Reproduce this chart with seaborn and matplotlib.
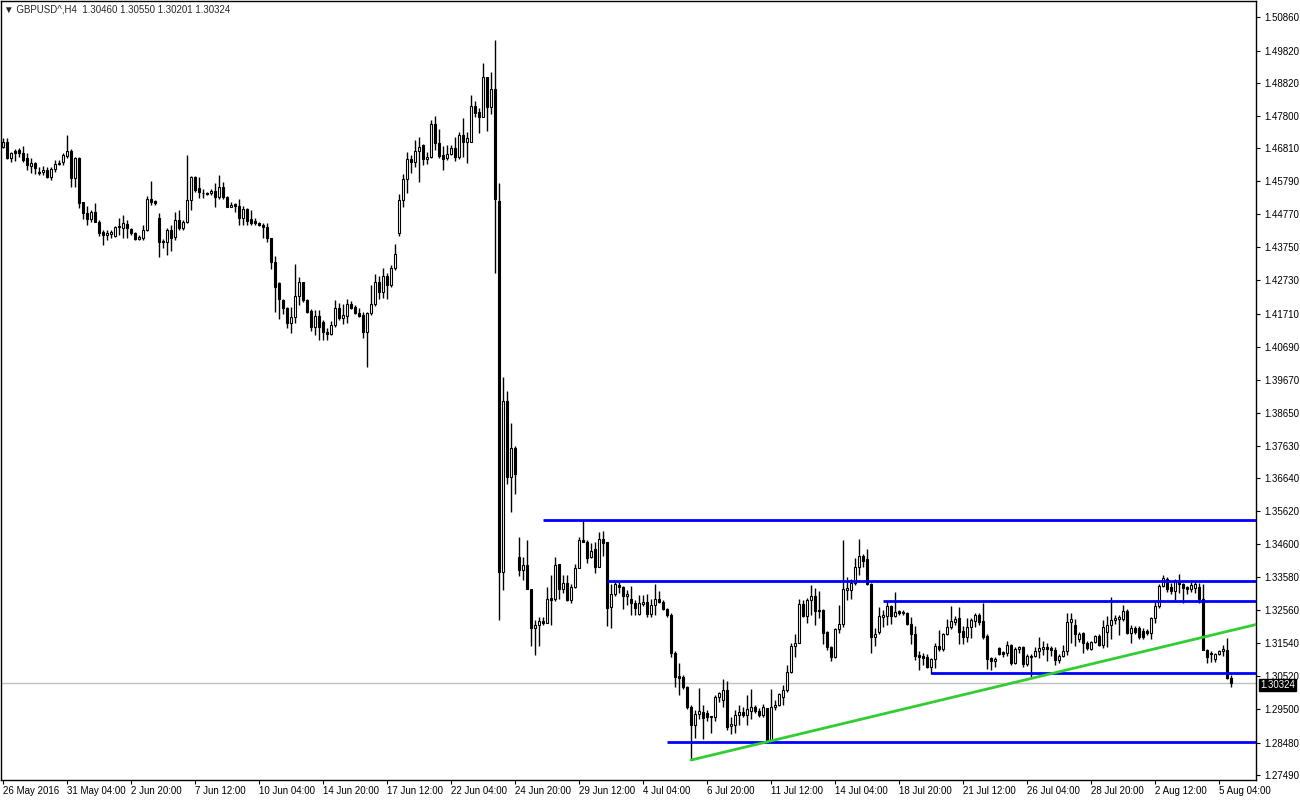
import pandas as pd
import seaborn as sns
import matplotlib.pyplot as plt
import numpy as np

# GBPUSD H4 candles, 26 May 2016 12:00 -> 5 Aug 2016 16:00
opens = [
    1.4685, 1.4700, 1.4651, 1.4672, 1.4675, 1.4666, 1.4651, 1.4626, 1.4635, 1.4608,
    1.4608, 1.4614, 1.4592, 1.4617, 1.4635, 1.4638, 1.4657, 1.4672, 1.4589, 1.4651,
    1.4515, 1.4481, 1.4463, 1.4484, 1.4454, 1.4423, 1.4414, 1.4417, 1.4410, 1.4438,
    1.4435, 1.4447, 1.4432, 1.4420, 1.4401, 1.4404, 1.4429, 1.4524, 1.4518, 1.4466,
    1.4392, 1.4392, 1.4429, 1.4407, 1.4460, 1.4435, 1.4454, 1.4521, 1.4592, 1.4558,
    1.4543, 1.4543, 1.4543, 1.4549, 1.4530, 1.4561, 1.4530, 1.4499, 1.4509, 1.4503,
    1.4466, 1.4493, 1.4463, 1.4457, 1.4450, 1.4444, 1.4438, 1.4404, 1.4330, 1.4265,
    1.4213, 1.4188, 1.4142, 1.4161, 1.4225, 1.4268, 1.4213, 1.4179, 1.4130, 1.4164,
    1.4145, 1.4114, 1.4108, 1.4136, 1.4188, 1.4157, 1.4164, 1.4201, 1.4191, 1.4173,
    1.4167, 1.4114, 1.4173, 1.4201, 1.4268, 1.4238, 1.4287, 1.4259, 1.4312, 1.4420,
    1.4520, 1.4586, 1.4648, 1.4638, 1.4672, 1.4691, 1.4648, 1.4654, 1.4756, 1.4697,
    1.4660, 1.4651, 1.4663, 1.4682, 1.4654, 1.4722, 1.4700, 1.4700, 1.4811, 1.4792,
    1.4777, 1.4900, 1.4808, 1.4863, 1.4518, 1.3374, 1.3901, 1.3667, 1.3756, 1.3420,
    1.3380, 1.3395, 1.3322, 1.3201, 1.3211, 1.3223, 1.3217, 1.3294, 1.3291, 1.3399,
    1.3322, 1.3340, 1.3288, 1.3328, 1.3386, 1.3473, 1.3467, 1.3420, 1.3445, 1.3389,
    1.3476, 1.3467, 1.3266, 1.3306, 1.3334, 1.3328, 1.3300, 1.3291, 1.3279, 1.3245,
    1.3276, 1.3282, 1.3245, 1.3273, 1.3291, 1.3282, 1.3260, 1.3242, 1.3124, 1.3053,
    1.3050, 1.3019, 1.2958, 1.2902, 1.2936, 1.2942, 1.2939, 1.2927, 1.2927, 1.2988,
    1.2979, 1.3010, 1.2899, 1.2902, 1.2933, 1.2942, 1.2933, 1.2945, 1.2958, 1.2945,
    1.2933, 1.2954, 1.2852, 1.2958, 1.2964, 1.2988, 1.3010, 1.3065, 1.3145, 1.3155,
    1.3275, 1.3238, 1.3288, 1.3300, 1.3257, 1.3257, 1.3189, 1.3143, 1.3112, 1.3198,
    1.3214, 1.3319, 1.3319, 1.3340, 1.3389, 1.3423, 1.3414, 1.3337, 1.3174, 1.3189,
    1.3235, 1.3238, 1.3269, 1.3238, 1.3254, 1.3251, 1.3248, 1.3214, 1.3183, 1.3118,
    1.3115, 1.3112, 1.3081, 1.3106, 1.3146, 1.3136, 1.3183, 1.3204, 1.3220, 1.3232,
    1.3192, 1.3174, 1.3204, 1.3223, 1.3241, 1.3223, 1.3177, 1.3109, 1.3100, 1.3140,
    1.3127, 1.3124, 1.3149, 1.3093, 1.3136, 1.3143, 1.3090, 1.3115, 1.3115, 1.3130,
    1.3136, 1.3143, 1.3140, 1.3133, 1.3102, 1.3115, 1.3130, 1.3220, 1.3211, 1.3168,
    1.3186, 1.3155, 1.3136, 1.3158, 1.3177, 1.3149, 1.3190, 1.3211, 1.3226, 1.3229,
    1.3229, 1.3254, 1.3186, 1.3201, 1.3201, 1.3192, 1.3192, 1.3186, 1.3232, 1.3269,
    1.3331, 1.3353, 1.3328, 1.3316, 1.3346, 1.3337, 1.3328, 1.3322, 1.3325, 1.3328,
    1.3291, 1.3134, 1.3124, 1.3106, 1.3121, 1.3130, 1.3134, 1.30460,
]
highs = [
    1.4713, 1.4713, 1.4669, 1.4678, 1.4681, 1.4688, 1.4666, 1.4651, 1.4638, 1.4623,
    1.4626, 1.4623, 1.4623, 1.4645, 1.4644, 1.4666, 1.4722, 1.4678, 1.4654, 1.4654,
    1.4515, 1.4503, 1.4491, 1.4512, 1.4460, 1.4429, 1.4429, 1.4429, 1.4441, 1.4466,
    1.4475, 1.4460, 1.4435, 1.4423, 1.4414, 1.4444, 1.4533, 1.4580, 1.4521, 1.4481,
    1.4401, 1.4435, 1.4444, 1.4484, 1.4490, 1.4460, 1.4660, 1.4595, 1.4595, 1.4592,
    1.4555, 1.4546, 1.4555, 1.4573, 1.4598, 1.4577, 1.4533, 1.4515, 1.4512, 1.4524,
    1.4503, 1.4496, 1.4490, 1.4466, 1.4453, 1.4450, 1.4450, 1.4404, 1.4349, 1.4268,
    1.4216, 1.4191, 1.4191, 1.4324, 1.4284, 1.4268, 1.4216, 1.4185, 1.4182, 1.4182,
    1.4152, 1.4127, 1.4148, 1.4213, 1.4204, 1.4201, 1.4216, 1.4210, 1.4198, 1.4188,
    1.4176, 1.4176, 1.4259, 1.4293, 1.4287, 1.4312, 1.4296, 1.4321, 1.4386, 1.4540,
    1.4600, 1.4669, 1.4660, 1.4706, 1.4716, 1.4694, 1.4669, 1.4768, 1.4781, 1.4740,
    1.4688, 1.4691, 1.4691, 1.4716, 1.4731, 1.4774, 1.4731, 1.4845, 1.4827, 1.4805,
    1.4943, 1.4900, 1.4916, 1.5015, 1.4574, 1.3975, 1.3932, 1.3833, 1.3762, 1.3482,
    1.3420, 1.3472, 1.3322, 1.3226, 1.3235, 1.3235, 1.3328, 1.3365, 1.3420, 1.3399,
    1.3365, 1.3365, 1.3337, 1.3399, 1.3482, 1.3534, 1.3473, 1.3464, 1.3467, 1.3498,
    1.3501, 1.3467, 1.3337, 1.3343, 1.3343, 1.3331, 1.3318, 1.3331, 1.3288, 1.3303,
    1.3303, 1.3306, 1.3291, 1.3337, 1.3315, 1.3288, 1.3263, 1.3248, 1.3130, 1.3093,
    1.3056, 1.3022, 1.2964, 1.2948, 1.3016, 1.2964, 1.2948, 1.2930, 1.2994, 1.3003,
    1.3044, 1.3037, 1.2927, 1.2948, 1.2964, 1.2958, 1.2994, 1.3013, 1.2964, 1.2955,
    1.2967, 1.2954, 1.3013, 1.2979, 1.3000, 1.3025, 1.3087, 1.3155, 1.3183, 1.3291,
    1.3288, 1.3294, 1.3334, 1.3325, 1.3315, 1.3260, 1.3192, 1.3146, 1.3201, 1.3272,
    1.3473, 1.3359, 1.3353, 1.3417, 1.3476, 1.3430, 1.3445, 1.3340, 1.3201, 1.3266,
    1.3257, 1.3285, 1.3272, 1.3312, 1.3257, 1.3257, 1.3251, 1.3235, 1.3207, 1.3130,
    1.3124, 1.3121, 1.3109, 1.3155, 1.3195, 1.3186, 1.3229, 1.3269, 1.3238, 1.3266,
    1.3207, 1.3232, 1.3232, 1.3248, 1.3248, 1.3279, 1.3183, 1.3112, 1.3112, 1.3143,
    1.3130, 1.3161, 1.3152, 1.3143, 1.3146, 1.3146, 1.3121, 1.3121, 1.3143, 1.3174,
    1.3161, 1.3155, 1.3146, 1.3143, 1.3121, 1.3149, 1.3248, 1.3248, 1.3229, 1.3189,
    1.3189, 1.3161, 1.3161, 1.3180, 1.3183, 1.3226, 1.3238, 1.3297, 1.3241, 1.3241,
    1.3272, 1.3260, 1.3211, 1.3207, 1.3207, 1.3201, 1.3198, 1.3235, 1.3282, 1.3337,
    1.3365, 1.3359, 1.3340, 1.3353, 1.3368, 1.3340, 1.3331, 1.3343, 1.3346, 1.3340,
    1.3337, 1.3137, 1.3130, 1.3124, 1.3133, 1.3149, 1.3170, 1.30550,
]
lows = [
    1.4682, 1.4648, 1.4638, 1.4641, 1.4654, 1.4638, 1.4614, 1.4604, 1.4601, 1.4598,
    1.4598, 1.4589, 1.4583, 1.4608, 1.4629, 1.4629, 1.4651, 1.4561, 1.4561, 1.4497,
    1.4463, 1.4445, 1.4454, 1.4454, 1.4410, 1.4383, 1.4398, 1.4405, 1.4408, 1.4414,
    1.4405, 1.4405, 1.4414, 1.4398, 1.4398, 1.4398, 1.4426, 1.4506, 1.4506, 1.4346,
    1.4374, 1.4352, 1.4364, 1.4398, 1.4429, 1.4430, 1.4450, 1.4490, 1.4546, 1.4527,
    1.4527, 1.4536, 1.4536, 1.4499, 1.4524, 1.4524, 1.4499, 1.4499, 1.4484, 1.4444,
    1.4444, 1.4444, 1.4444, 1.4444, 1.4441, 1.4404, 1.4392, 1.4308, 1.4176, 1.4154,
    1.4170, 1.4127, 1.4111, 1.4142, 1.4197, 1.4207, 1.4173, 1.4118, 1.4105, 1.4090,
    1.4090, 1.4090, 1.4105, 1.4130, 1.4152, 1.4139, 1.4142, 1.4185, 1.4170, 1.4161,
    1.4096, 1.4006, 1.4167, 1.4195, 1.4216, 1.4219, 1.4216, 1.4253, 1.4305, 1.4410,
    1.4500, 1.4543, 1.4604, 1.4623, 1.4577, 1.4629, 1.4632, 1.4651, 1.4675, 1.4651,
    1.4614, 1.4645, 1.4660, 1.4641, 1.4648, 1.4654, 1.4635, 1.4700, 1.4777, 1.4728,
    1.4777, 1.4734, 1.4786, 1.4296, 1.3226, 1.3318, 1.3645, 1.3559, 1.3614, 1.3362,
    1.3348, 1.3322, 1.3146, 1.3118, 1.3146, 1.3211, 1.3217, 1.3211, 1.3285, 1.3291,
    1.3310, 1.3285, 1.3279, 1.3325, 1.3386, 1.3467, 1.3401, 1.3417, 1.3371, 1.3389,
    1.3423, 1.3207, 1.3201, 1.3300, 1.3310, 1.3260, 1.3272, 1.3242, 1.3242, 1.3242,
    1.3270, 1.3235, 1.3235, 1.3242, 1.3279, 1.3257, 1.3235, 1.3112, 1.3019, 1.2994,
    1.3013, 1.2951, 1.2794, 1.2862, 1.2920, 1.2859, 1.2914, 1.2877, 1.2914, 1.2973,
    1.2958, 1.2887, 1.2874, 1.2877, 1.2902, 1.2927, 1.2902, 1.2920, 1.2939, 1.2927,
    1.2927, 1.2849, 1.2849, 1.2948, 1.2961, 1.2964, 1.3004, 1.3062, 1.3112, 1.3155,
    1.3235, 1.3217, 1.3242, 1.3211, 1.3232, 1.3152, 1.3133, 1.3099, 1.3109, 1.3186,
    1.3204, 1.3288, 1.3291, 1.3334, 1.3365, 1.3389, 1.3334, 1.3124, 1.3146, 1.3183,
    1.3204, 1.3211, 1.3214, 1.3235, 1.3242, 1.3242, 1.3211, 1.3152, 1.3102, 1.3071,
    1.3087, 1.3078, 1.3059, 1.3078, 1.3130, 1.3130, 1.3180, 1.3198, 1.3211, 1.3152,
    1.3152, 1.3158, 1.3171, 1.3204, 1.3211, 1.3168, 1.3075, 1.3072, 1.3081, 1.3118,
    1.3112, 1.3115, 1.3087, 1.3090, 1.3124, 1.3081, 1.3084, 1.3050, 1.3112, 1.3109,
    1.3118, 1.3099, 1.3115, 1.3087, 1.3093, 1.3112, 1.3118, 1.3155, 1.3146, 1.3158,
    1.3124, 1.3133, 1.3133, 1.3155, 1.3146, 1.3140, 1.3143, 1.3168, 1.3214, 1.3180,
    1.3223, 1.3183, 1.3155, 1.3183, 1.3168, 1.3168, 1.3180, 1.3168, 1.3217, 1.3263,
    1.3328, 1.3313, 1.3306, 1.3288, 1.3310, 1.3279, 1.3306, 1.3313, 1.3310, 1.3279,
    1.3134, 1.3093, 1.3096, 1.3096, 1.3118, 1.3115, 1.3044, 1.30201,
]
closes = [
    1.4700, 1.4651, 1.4666, 1.4666, 1.4666, 1.4645, 1.4629, 1.4635, 1.4620, 1.4605,
    1.4614, 1.4592, 1.4617, 1.4632, 1.4632, 1.4660, 1.4672, 1.4589, 1.4651, 1.4512,
    1.4481, 1.4463, 1.4484, 1.4454, 1.4420, 1.4414, 1.4420, 1.4423, 1.4438, 1.4441,
    1.4450, 1.4435, 1.4420, 1.4401, 1.4408, 1.4429, 1.4524, 1.4515, 1.4512, 1.4392,
    1.4395, 1.4429, 1.4404, 1.4460, 1.4435, 1.4454, 1.4521, 1.4592, 1.4552, 1.4546,
    1.4543, 1.4540, 1.4549, 1.4530, 1.4561, 1.4530, 1.4499, 1.4506, 1.4503, 1.4466,
    1.4493, 1.4457, 1.4450, 1.4450, 1.4444, 1.4438, 1.4404, 1.4330, 1.4253, 1.4216,
    1.4188, 1.4142, 1.4161, 1.4225, 1.4268, 1.4213, 1.4176, 1.4130, 1.4164, 1.4130,
    1.4114, 1.4108, 1.4136, 1.4188, 1.4157, 1.4167, 1.4201, 1.4188, 1.4173, 1.4164,
    1.4114, 1.4173, 1.4201, 1.4268, 1.4238, 1.4287, 1.4259, 1.4312, 1.4355, 1.4520,
    1.4586, 1.4648, 1.4638, 1.4672, 1.4685, 1.4648, 1.4654, 1.4756, 1.4697, 1.4657,
    1.4648, 1.4663, 1.4682, 1.4654, 1.4722, 1.4700, 1.4713, 1.4811, 1.4789, 1.4777,
    1.4900, 1.4808, 1.4863, 1.4524, 1.3374, 1.3901, 1.3667, 1.3756, 1.3676, 1.3380,
    1.3395, 1.3322, 1.3201, 1.3211, 1.3223, 1.3217, 1.3291, 1.3288, 1.3396, 1.3322,
    1.3340, 1.3288, 1.3328, 1.3386, 1.3473, 1.3467, 1.3417, 1.3439, 1.3389, 1.3476,
    1.3464, 1.3263, 1.3306, 1.3337, 1.3328, 1.3300, 1.3306, 1.3279, 1.3263, 1.3279,
    1.3282, 1.3245, 1.3273, 1.3291, 1.3282, 1.3260, 1.3242, 1.3124, 1.3050, 1.3047,
    1.3019, 1.2958, 1.2902, 1.2936, 1.2945, 1.2923, 1.2927, 1.2930, 1.2988, 1.3000,
    1.3010, 1.2896, 1.2905, 1.2933, 1.2942, 1.2933, 1.2951, 1.2958, 1.2945, 1.2933,
    1.2958, 1.2852, 1.2958, 1.2964, 1.2997, 1.3010, 1.3065, 1.3145, 1.3155, 1.3275,
    1.3238, 1.3288, 1.3300, 1.3254, 1.3254, 1.3186, 1.3143, 1.3112, 1.3198, 1.3214,
    1.3322, 1.3325, 1.3340, 1.3389, 1.3423, 1.3408, 1.3337, 1.3174, 1.3183, 1.3238,
    1.3241, 1.3269, 1.3238, 1.3251, 1.3248, 1.3248, 1.3214, 1.3183, 1.3115, 1.3112,
    1.3109, 1.3081, 1.3106, 1.3146, 1.3136, 1.3183, 1.3204, 1.3223, 1.3229, 1.3189,
    1.3174, 1.3204, 1.3226, 1.3241, 1.3220, 1.3174, 1.3106, 1.3100, 1.3106, 1.3121,
    1.3121, 1.3149, 1.3093, 1.3136, 1.3143, 1.3090, 1.3115, 1.3112, 1.3130, 1.3140,
    1.3143, 1.3136, 1.3133, 1.3102, 1.3115, 1.3130, 1.3220, 1.3229, 1.3183, 1.3183,
    1.3155, 1.3140, 1.3158, 1.3177, 1.3149, 1.3204, 1.3211, 1.3226, 1.3232, 1.3235,
    1.3254, 1.3186, 1.3201, 1.3189, 1.3174, 1.3174, 1.3186, 1.3232, 1.3269, 1.3331,
    1.3356, 1.3322, 1.3316, 1.3346, 1.3337, 1.3325, 1.3322, 1.3334, 1.3337, 1.3291,
    1.3134, 1.3112, 1.3121, 1.3121, 1.3130, 1.3136, 1.3047, 1.30324,
]

# drawn objects: horizontal levels (price, first bar) and the green trend line
levels = [1.3534, 1.3347, 1.3285, 1.3062, 1.2850]
level_start = [135, 151, 220, 232, 166]
trend_x = [172, 313.25]
trend_y = [1.2794, 1.3212]
last_price = 1.30324

price_ticks = [1.50860, 1.49820, 1.48820, 1.47800, 1.46810, 1.45790, 1.44770, 1.43750,
               1.42730, 1.41710, 1.40690, 1.39670, 1.38650, 1.37630, 1.36640, 1.35620,
               1.34600, 1.33580, 1.32560, 1.31540, 1.30520, 1.29500, 1.28480, 1.27490]
header = '▼ GBPUSD^,H4  1.30460 1.30550 1.30201 1.30324'

df = pd.DataFrame({'open': opens, 'high': highs, 'low': lows, 'close': closes})
n = len(df)
df['idx'] = np.arange(n)

# bar times: 6 bars per weekday, first bar 26 May 12:00
days = pd.bdate_range('2016-05-26', '2016-08-05')
stamps = [d + pd.Timedelta(hours=h) for d in days for h in range(0, 24, 4)][3:3 + n]
tick_pos = list(range(0, n, 16))
tick_lab = []
for i in tick_pos:
    t = stamps[i]
    tick_lab.append(f'{t.day} {t:%b %Y}' if i == 0 else f'{t.day} {t:%b %H:%M}')

sns.set_style('ticks', {'axes.edgecolor': 'black', 'xtick.color': 'black', 'ytick.color': 'black'})
plt.rcParams['font.family'] = ['Liberation Sans', 'DejaVu Sans']

fig = plt.figure(figsize=(13, 8), dpi=100)
ax = fig.add_axes([1 / 1300, 20 / 800, 1255 / 1300, 779 / 800])

ax.axhline(last_price, color='#C0C0C0', lw=1, zorder=0)

# candles
up = df['close'] >= df['open']
ax.vlines(df['idx'], df['low'], df['high'], color='black', lw=1, zorder=2)
body = (df['close'] - df['open']).abs().clip(lower=0.00006)
bottom = df[['open', 'close']].min(axis=1)
ax.bar(df['idx'], body, bottom=bottom, width=0.5,
       color=np.where(up, 'white', 'black'), edgecolor='black', linewidth=0.8, zorder=3)

# levels and trend line
for lv, st in zip(levels, level_start):
    ax.hlines(lv, st, 313.25, color='#0000FF', lw=2, zorder=4)
sns.lineplot(x=trend_x, y=trend_y, color='#32CD32', lw=2, ax=ax, zorder=4)

ax.set_xlim(-0.5, 313.25)
ax.set_ylim(1.27325, 1.51349)

ax.yaxis.tick_right()
ax.set_yticks(price_ticks)
ax.set_yticklabels([f'{v:.5f}' for v in price_ticks], fontsize=7)
ax.tick_params(axis='y', right=True, left=False, length=3, pad=3)
ax.set_xticks(tick_pos)
ax.set_xticklabels(tick_lab, fontsize=7, ha='left')
ax.tick_params(axis='x', bottom=True, length=3, pad=1)
for s in ax.spines.values():
    s.set_linewidth(1)
    s.set_color('black')

# current price marker (sits just below the 1.30520 label, as in the terminal)
ax.annotate(f'{last_price:.5f}', xy=(1.0, last_price), xycoords=('axes fraction', 'data'),
            xytext=(3, -1.5), textcoords='offset points', va='center', ha='left',
            fontsize=7, color='white', zorder=10, annotation_clip=False,
            bbox=dict(boxstyle='square,pad=0.1', fc='black', ec='black'))

fig.text(4 / 1300, 1 - 10 / 800, header, fontsize=7, va='center', ha='left')

plt.savefig('out.png', dpi=100)
